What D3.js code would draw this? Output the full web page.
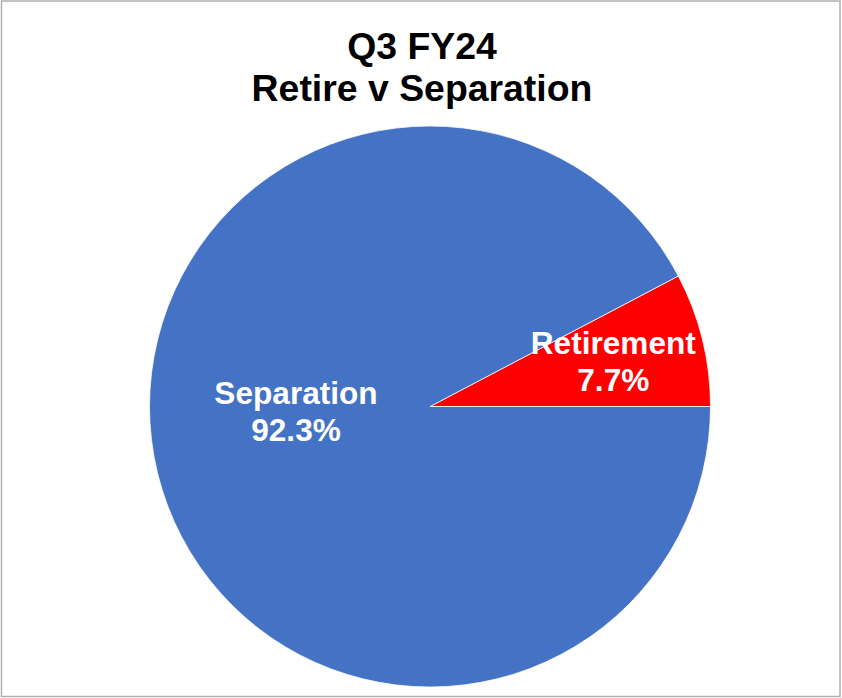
<!DOCTYPE html>
<html>
<head>
<meta charset="utf-8">
<script src="https://cdn.jsdelivr.net/npm/d3@7"></script>
<style>
  body { margin: 0; background: #fff; }
  text { font-family: "Liberation Sans", Arial, sans-serif; font-weight: bold; }
</style>
</head>
<body>
<div id="chart"></div>
<script>
// chart data
let titleLines = ["Q3 FY24", "Retire v Separation"];
let categories = ["Retirement", "Separation"];
let values = [7.7, 92.3];
let labels = ["7.7%", "92.3%"];
let colors = ["#FF0000", "#4472C4"];

let width = 842;
let height = 698;
let cx = 430, cy = 406.5, radius = 280.5;

let svg = d3.select("#chart")
  .append("svg")
  .attr("width", width).attr("height", height);

// outer frame
svg.append("rect")
  .attr("x", 1.5).attr("y", 1)
  .attr("width", width - 3.5).attr("height", height - 2.5)
  .attr("fill", "white")
  .attr("stroke", "#b0b0b0")
  .attr("stroke-width", 1.5);

// title
svg.append("text")
  .attr("text-anchor", "middle")
  .attr("font-size", 37.4)
  .attr("fill", "#000")
  .selectAll("tspan")
  .data(titleLines).enter()
  .append("tspan")
  .attr("x", width / 2 + 1)
  .attr("y", (d, i) => 59 + i * 42)
  .text(d => d);

// first slice (Retirement) ends at 3 o'clock
let total = d3.sum(values);
let start = Math.PI / 2 - 2 * Math.PI * values[0] / total;

let pie = d3.pie()
  .sort(null)
  .startAngle(start)
  .endAngle(start + 2 * Math.PI)
  .value(d => d);

let arcs = pie(values);

let arc = d3.arc().innerRadius(0).outerRadius(radius);

let g = svg.append("g").attr("transform", `translate(${cx},${cy})`);

g.selectAll("path")
  .data(arcs).enter()
  .append("path")
  .attr("d", arc)
  .attr("fill", (d, i) => colors[i])
  .attr("stroke", "white")
  .attr("stroke-width", 0.75);

// label placement (best-fit like): radius fraction and angle
let labelRadius = [0.673, 0.478];
let labelAngle = [null, 268]; // degrees, null = slice middle

let labelG = g.selectAll("g.label")
  .data(arcs).enter()
  .append("g")
  .attr("class", "label")
  .attr("transform", function(d, i) {
    let a = labelAngle[i] === null ? (d.startAngle + d.endAngle) / 2 : labelAngle[i] * Math.PI / 180;
    let r = labelRadius[i] * radius;
    return `translate(${Math.sin(a) * r},${-Math.cos(a) * r})`;
  });

labelG.append("text")
  .attr("text-anchor", "middle")
  .attr("font-size", 31.6)
  .attr("fill", "white")
  .selectAll("tspan")
  .data((d, i) => [categories[i], labels[i]])
  .enter()
  .append("tspan")
  .attr("x", 0)
  .attr("y", (d, i) => -7.5 + i * 37)
  .text(d => d);
</script>
</body>
</html>
